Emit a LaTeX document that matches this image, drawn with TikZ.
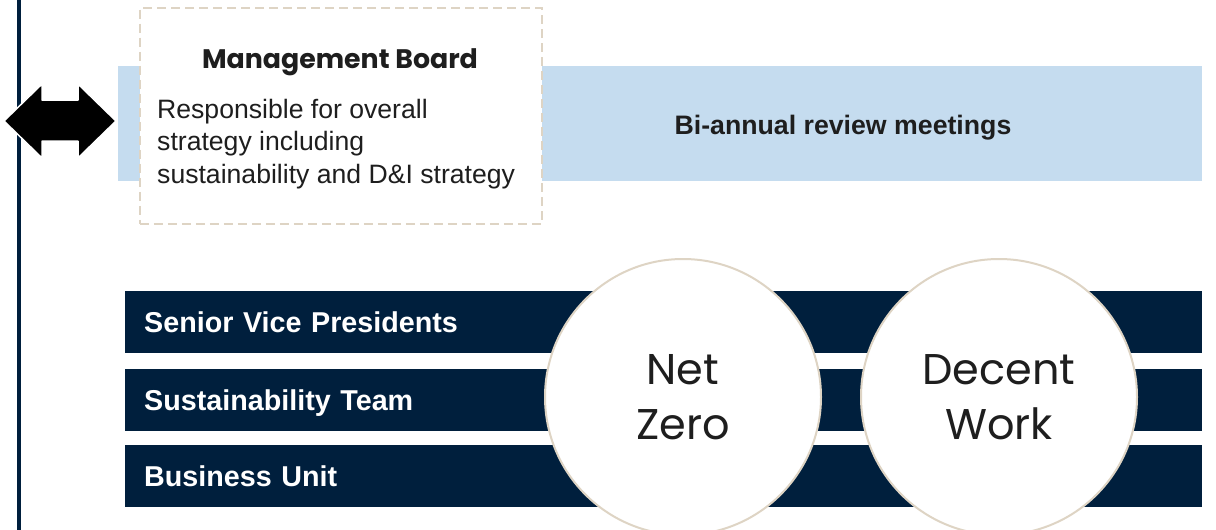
\documentclass[tikz,border=0pt]{standalone}
\usepackage{fontspec}
\setmainfont{Liberation Sans}
\newfontfamily\headfont{Poppins}
\definecolor{navy}{RGB}{0,31,61}
\definecolor{paleblue}{RGB}{197,220,239}
\definecolor{sand}{RGB}{222,212,196}
\definecolor{ink}{RGB}{30,30,30}
\begin{document}
\begin{tikzpicture}[x=1pt,y=-1pt,
    bar/.style={fill=navy,text=white,anchor=north west,minimum height=62pt,
      text width=1039pt,inner xsep=19pt,align=left,text height=24pt,text depth=3.4pt,
      font=\fontsize{28.7}{32}\selectfont\bfseries},
    goal/.style={circle,draw=sand,line width=2pt,fill=white,minimum size=276pt,
      align=center,text=ink,font=\headfont\fontsize{43}{55}\selectfont}]
    \useasboundingbox (0,0) rectangle (1216,530);
    % timeline and review band
    \draw[navy,line width=4pt] (19,0) -- (19,530);
    \node[fill=paleblue,anchor=north west,minimum width=1084pt,minimum height=115pt,inner sep=0pt] (review) at (118,66) {};
    \node[font=\fontsize{26.7}{30}\selectfont\bfseries,text=ink] (reviewtxt) at (843,128) {Bi-annual review meetings};
    % double arrow
    \fill[black,draw=white,line width=1.5pt,line join=round]
      (4,121) -- (42,84) -- (42,100) -- (78,100) -- (78,84) -- (116,121)
      -- (78,158) -- (78,141) -- (42,141) -- (42,158) -- cycle;
    % management board
    \node[draw=sand,dashed,line width=1.5pt,dash pattern=on 9pt off 5pt,fill=white,anchor=north west,
      minimum width=402pt,minimum height=216pt] (board) at (139,7) {};
    \node[font=\headfont\bfseries\fontsize{26.8}{30}\selectfont,text=ink] (boardhead) at (340,62) {Management Board};
    \node[anchor=north west,align=left,inner sep=0pt,text=ink,font=\fontsize{26.6}{32.5}\selectfont] (boardtxt) at (157,99)
      {Responsible for overall\\strategy including\\sustainability and D\&I strategy};
    % teams
    \node[bar] (svp) at (125,291) {Senior Vice Presidents};
    \node[bar] (sust) at (125,369) {Sustainability Team};
    \node[bar] (unit) at (125,445) {Business Unit};
    % goals
    \node[goal] (netzero) at (683,397) {Net\\Zero};
    \node[goal] (decent) at (999,397) {Decent\\Work};
\end{tikzpicture}
\end{document}
